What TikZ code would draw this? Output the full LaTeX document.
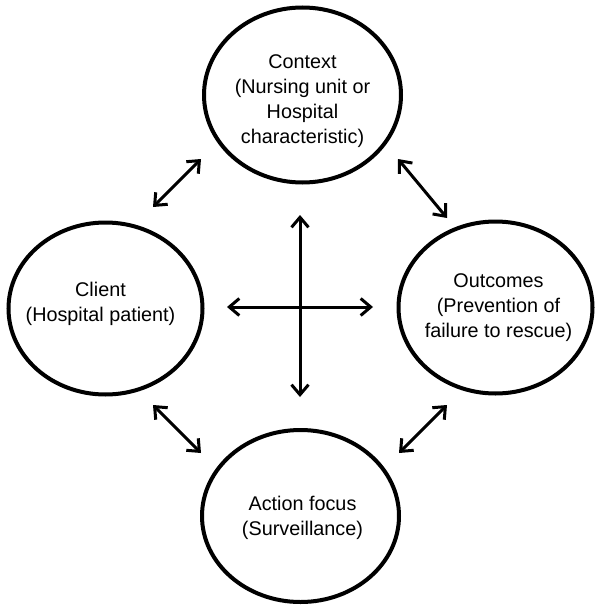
\documentclass[tikz,border=0pt]{standalone}
\usepackage{fontspec}
\setmainfont{Liberation Sans}
\usetikzlibrary{shapes.geometric,arrows.meta}
\begin{document}
\begin{tikzpicture}[x=1pt,y=-1pt,
  circ/.style={ellipse,draw,line width=4pt,inner sep=0pt},
  txt/.style={align=center,inner sep=0pt,font=\fontsize{19.8}{25}\selectfont},
  dbl/.style={line width=3pt,{Straight Barb[length=10pt,width=17pt,line width=3pt]}-{Straight Barb[length=10pt,width=17pt,line width=3pt]}}]
\useasboundingbox (0,0) rectangle (602,613);
\node[circ,minimum width=197pt,minimum height=175pt] (context) at (302.5,95) {};
\node[circ,minimum width=194pt,minimum height=172pt] (client) at (105.5,308.5) {};
\node[circ,minimum width=194pt,minimum height=172pt] (outcomes) at (495.5,307.5) {};
\node[circ,minimum width=197pt,minimum height=172pt] (action) at (300.5,516) {};
\node[txt] (contextT) at ([shift={(0,6)}]context.center)
  {Context\\(Nursing unit or\\Hospital\\characteristic)};
\node[txt] (clientT) at ([shift={(-5,-4.5)}]client.center)
  {Client\\(Hospital patient)};
\node[txt] (outcomesT) at ([shift={(3,0)}]outcomes.center)
  {Outcomes\\(Prevention of\\failure to rescue)};
\node[txt] (actionT) at ([shift={(2,2)}]action.center)
  {Action focus\\(Surveillance)};
\coordinate (tl1) at (153,207); \coordinate (tl2) at (201,159);
\coordinate (tr1) at (398,159); \coordinate (tr2) at (447,218);
\coordinate (bl1) at (153,405); \coordinate (bl2) at (201,453);
\coordinate (br1) at (447,405); \coordinate (br2) at (399,453);
\coordinate (vt) at (300,215); \coordinate (vb) at (300,397);
\coordinate (hl) at (227,307); \coordinate (hr) at (373,307);
\draw[dbl] (tl1) -- (tl2);
\draw[dbl] (tr1) -- (tr2);
\draw[dbl] (bl1) -- (bl2);
\draw[dbl] (br1) -- (br2);
\draw[dbl] (vt) -- (vb);
\draw[dbl] (hl) -- (hr);
\end{tikzpicture}
\end{document}
